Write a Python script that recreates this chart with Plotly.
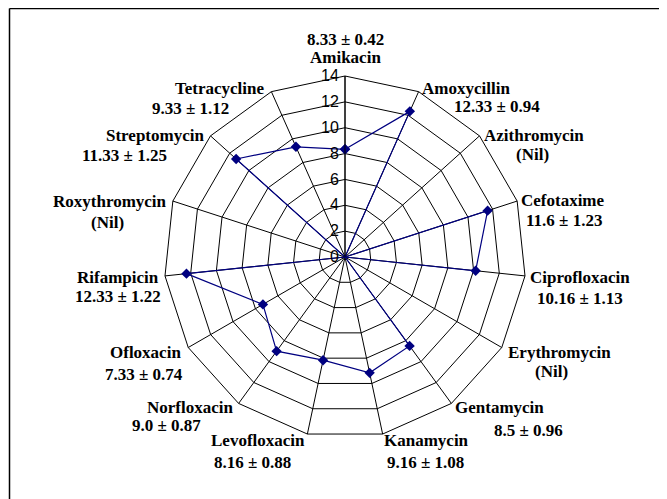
import plotly.graph_objects as go

# ---- data ----
categories = ["Amikacin", "Amoxycillin", "Azithromycin", "Cefotaxime", "Ciprofloxacin",
              "Erythromycin", "Gentamycin", "Kanamycin", "Levofloxacin", "Norfloxacin",
              "Ofloxacin", "Rifampicin", "Roxythromycin", "Streptomycin", "Tetracycline"]
values = [8.33, 12.33, 0, 11.6, 10.16, 0, 8.5, 9.16, 8.16, 9.0, 7.33, 12.33, 0, 11.33, 9.33]
value_labels = ["8.33 ± 0.42", "12.33 ± 0.94", "(Nil)", "11.6 ± 1.23", "10.16 ± 1.13",
                "(Nil)", "8.5 ± 0.96", "9.16 ± 1.08", "8.16 ± 0.88", "9.0 ± 0.87",
                "7.33 ± 0.74", "12.33 ± 1.22", "(Nil)", "11.33 ± 1.25", "9.33 ± 1.12"]
radial_ticks = [0, 2, 4, 6, 8, 10, 12, 14]

# ---- layout helpers ----
# the page places the figure 8px in from the top-left corner
OFF = 8
W, H = 667 - OFF, 499 - OFF
# (name center x, name center y, value center x, value center y) in page pixels
label_pos = [
    (345, 57, 345, 39), (466, 88, 497, 107), (534, 135, 532, 154), (563, 200, 564, 220),
    (580, 277, 580, 298), (559, 352, 551, 371), (500, 407, 528, 430), (426, 440, 425, 462),
    (258, 440, 253, 462), (190, 407, 166, 425), (145, 352, 144, 374), (118, 277, 118, 296),
    (110, 201, 107, 223), (155, 135, 124, 155), (220, 88, 190, 108),
]


def px(x):
    return (x - OFF) / W


def py(y):
    return 1 - (y - OFF) / H


cx, cy, R = 345, 257, 181

fig = go.Figure()
fig.add_trace(go.Scatterpolar(
    r=values + values[:1],
    theta=categories + categories[:1],
    mode="lines+markers",
    line=dict(color="#000080", width=1.2),
    marker=dict(symbol="diamond", size=8, color="#000080"),
    showlegend=False,
    hoverinfo="skip",
))

label_font = dict(family="Liberation Serif", size=17, color="black")
annotations = []
for name, val, (nx, ny, vx, vy) in zip(categories, value_labels, label_pos):
    annotations.append(dict(x=px(nx), y=py(ny), xref="paper", yref="paper",
                            text="<b>%s</b>" % name, showarrow=False,
                            xanchor="center", yanchor="middle", font=label_font))
    annotations.append(dict(x=px(vx), y=py(vy), xref="paper", yref="paper",
                            text="<b>%s</b>" % val, showarrow=False,
                            xanchor="center", yanchor="middle", font=label_font))

fig.update_layout(
    width=W, height=H,
    margin=dict(l=0, r=0, t=0, b=0),
    paper_bgcolor="white",
    polar=dict(
        domain=dict(x=[px(cx - R), px(cx + R)], y=[py(cy + R), py(cy - R)]),
        bgcolor="white",
        gridshape="linear",
        angularaxis=dict(
            direction="clockwise", rotation=90,
            categoryorder="array", categoryarray=categories,
            showticklabels=False, ticks="",
            showline=True, linecolor="black", linewidth=1,
            showgrid=True, gridcolor="black", gridwidth=1,
        ),
        radialaxis=dict(
            range=[0, 14], tickvals=radial_ticks, angle=90, tickangle=90,
            side="counterclockwise",
            showline=True, linecolor="black", linewidth=1,
            showgrid=True, gridcolor="black", gridwidth=1,
            ticks="",
            tickfont=dict(family="Liberation Sans", size=16, color="black"),
        ),
    ),
    annotations=annotations,
    shapes=[
        dict(type="line", xref="paper", yref="paper", x0=px(9.5), x1=px(9.5), y0=0, y1=py(8.5),
             line=dict(color="black", width=1.5)),
        dict(type="line", xref="paper", yref="paper", x0=px(9.5), x1=1, y0=py(8.5), y1=py(8.5),
             line=dict(color="black", width=1.5)),
    ],
)

fig.write_html("out.html")
